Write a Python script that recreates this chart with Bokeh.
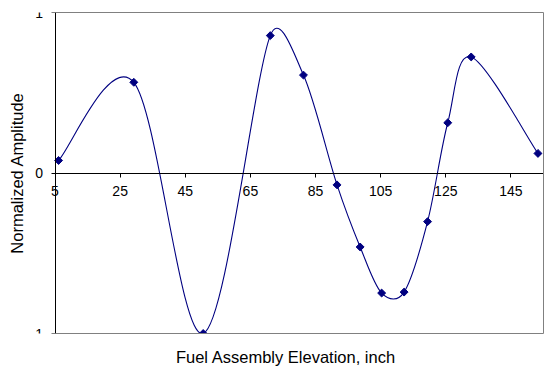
import numpy as np
from bokeh.plotting import figure
from bokeh.models import ColumnDataSource, FixedTicker, LinearAxis, Range1d
from bokeh.embed import file_html
from bokeh.resources import INLINE

# Data
elevation = [6.1, 29.2, 50.5, 71.1, 81.3, 91.6, 98.7, 105.3, 112.2, 119.4, 125.6, 132.8, 153.3]
amplitude = [0.078, 0.565, -1.0, 0.856, 0.61, -0.074, -0.461, -0.748, -0.742, -0.303, 0.313, 0.723, 0.122]
x_ticks = [5, 25, 45, 65, 85, 105, 125, 145]
x_tick_labels = ["5", "25", "45", "65", "85", "105", "125", "145"]
y_ticks = [-1, 0, 1]
y_tick_labels = ["-1", "0", "1"]

X_MIN, X_MAX, Y_MIN, Y_MAX = 5, 155, -1, 1
W, H = 549, 382
# frame borders; the frame reaches left of x = 5 so the "5" and y labels are not clipped
BL, BR, BT, BB = 28, 6, 12, 49
BOX_L = 54.5  # page position of x = 5
BOX_R, BOX_T, BOX_B = W - BR, BT, H - BB
FONT = "Liberation Sans"
NAVY = "#000080"
GREY = "#808080"

sx = (BOX_R - BOX_L) / (X_MAX - X_MIN)
sy = (BOX_B - BOX_T) / (Y_MAX - Y_MIN)
x_lo = X_MIN - (BOX_L - BL) / sx

# Excel-style smoothed line: Bezier segments whose control points come from the data
xs = np.array(elevation, dtype=float)
ys = np.array(amplitude, dtype=float)
n = len(xs)


def dist(a, b):
    return np.hypot((xs[a] - xs[b]) * sx, (ys[a] - ys[b]) * sy)


seg = dict(x0=[], y0=[], x1=[], y1=[], cx0=[], cy0=[], cx1=[], cy1=[])
for i in range(n - 1):
    i0 = max(i - 1, 0)
    i1, i2 = i, i + 1
    i3 = min(i + 2, n - 1)
    d12 = dist(i1, i2)
    d02 = dist(i0, i2)
    d13 = dist(i1, i3)
    f = 1 / 6 if d02 / 6 < d12 / 2 else d12 / (2 * d02)
    g = 1 / 6 if d13 / 6 < d12 / 2 else d12 / (2 * d13)
    seg["x0"].append(xs[i1]); seg["y0"].append(ys[i1])
    seg["x1"].append(xs[i2]); seg["y1"].append(ys[i2])
    seg["cx0"].append(xs[i1] + f * (xs[i2] - xs[i0]))
    seg["cy0"].append(ys[i1] + f * (ys[i2] - ys[i0]))
    seg["cx1"].append(xs[i2] - g * (xs[i3] - xs[i1]))
    seg["cy1"].append(ys[i2] - g * (ys[i3] - ys[i1]))

p = figure(width=W, height=H, output_backend="svg", toolbar_location=None,
           x_range=Range1d(x_lo, X_MAX), y_range=Range1d(Y_MIN, Y_MAX),
           min_border_left=BL, min_border_right=BR, min_border_top=BT, min_border_bottom=BB,
           x_axis_location=None, y_axis_location=None)
p.background_fill_color = "white"
p.border_fill_color = "white"
p.outline_line_color = None
p.xgrid.visible = False
p.ygrid.visible = False

p.bezier(x0="x0", y0="y0", x1="x1", y1="y1", cx0="cx0", cy0="cy0", cx1="cx1", cy1="cy1",
         source=ColumnDataSource(seg), line_color=NAVY, line_width=1.1)
p.scatter(elevation, amplitude, marker="square", angle=np.pi / 4, size=5.6,
          fill_color=NAVY, line_color=NAVY)

# x axis crossing at y = 0
xa = LinearAxis(fixed_location=0, ticker=FixedTicker(ticks=x_ticks), bounds=(X_MIN, X_MAX))
xa.major_label_overrides = dict(zip(x_ticks, x_tick_labels))
xa.axis_line_color = "black"
xa.major_tick_line_color = "black"
xa.major_tick_out = 4
xa.major_tick_in = 0
xa.minor_tick_line_color = None
xa.major_label_standoff = 9
xa.major_label_text_font = FONT
xa.major_label_text_font_size = "14px"
xa.major_label_text_color = "black"
p.add_layout(xa, "below")

# y axis at x = 5
ya = LinearAxis(fixed_location=X_MIN, ticker=FixedTicker(ticks=y_ticks), bounds=(Y_MIN, Y_MAX))
ya.major_label_overrides = dict(zip(y_ticks, y_tick_labels))
ya.axis_line_color = "black"
ya.major_tick_line_color = "black"
ya.major_tick_out = 4
ya.major_tick_in = 0
ya.minor_tick_line_color = None
ya.major_label_standoff = 8
ya.major_label_text_font = FONT
ya.major_label_text_font_size = "14px"
ya.major_label_text_color = "black"
p.add_layout(ya, "left")

# axis titles (the bottom one also draws the grey lower border)
xt = LinearAxis(ticker=FixedTicker(ticks=[]), axis_label="Fuel Assembly Elevation, inch")
yt = LinearAxis(ticker=FixedTicker(ticks=[]), axis_label="Normalized Amplitude")
for ax in (xt, yt):
    ax.axis_line_color = None
    ax.major_tick_line_color = None
    ax.minor_tick_line_color = None
    ax.major_label_text_font_size = "0px"
    ax.axis_label_text_font = FONT
    ax.axis_label_text_font_size = "16.5px"
    ax.axis_label_text_font_style = "normal"
    ax.axis_label_text_color = "black"
xt.axis_line_color = GREY
xt.bounds = (X_MIN, X_MAX)
xt.axis_label_standoff = 14
yt.axis_label_standoff = 3
p.add_layout(xt, "below")
p.add_layout(yt, "left")

# grey top and right borders of the plot area
top_b = LinearAxis(ticker=FixedTicker(ticks=[]), bounds=(X_MIN, X_MAX))
right_b = LinearAxis(ticker=FixedTicker(ticks=[]), bounds=(Y_MIN, Y_MAX))
for ax in (top_b, right_b):
    ax.axis_line_color = GREY
    ax.major_tick_line_color = None
    ax.minor_tick_line_color = None
    ax.major_label_text_font_size = "0px"
p.add_layout(top_b, "above")
p.add_layout(right_b, "right")

open("out.html", "w").write(file_html(p, INLINE))
